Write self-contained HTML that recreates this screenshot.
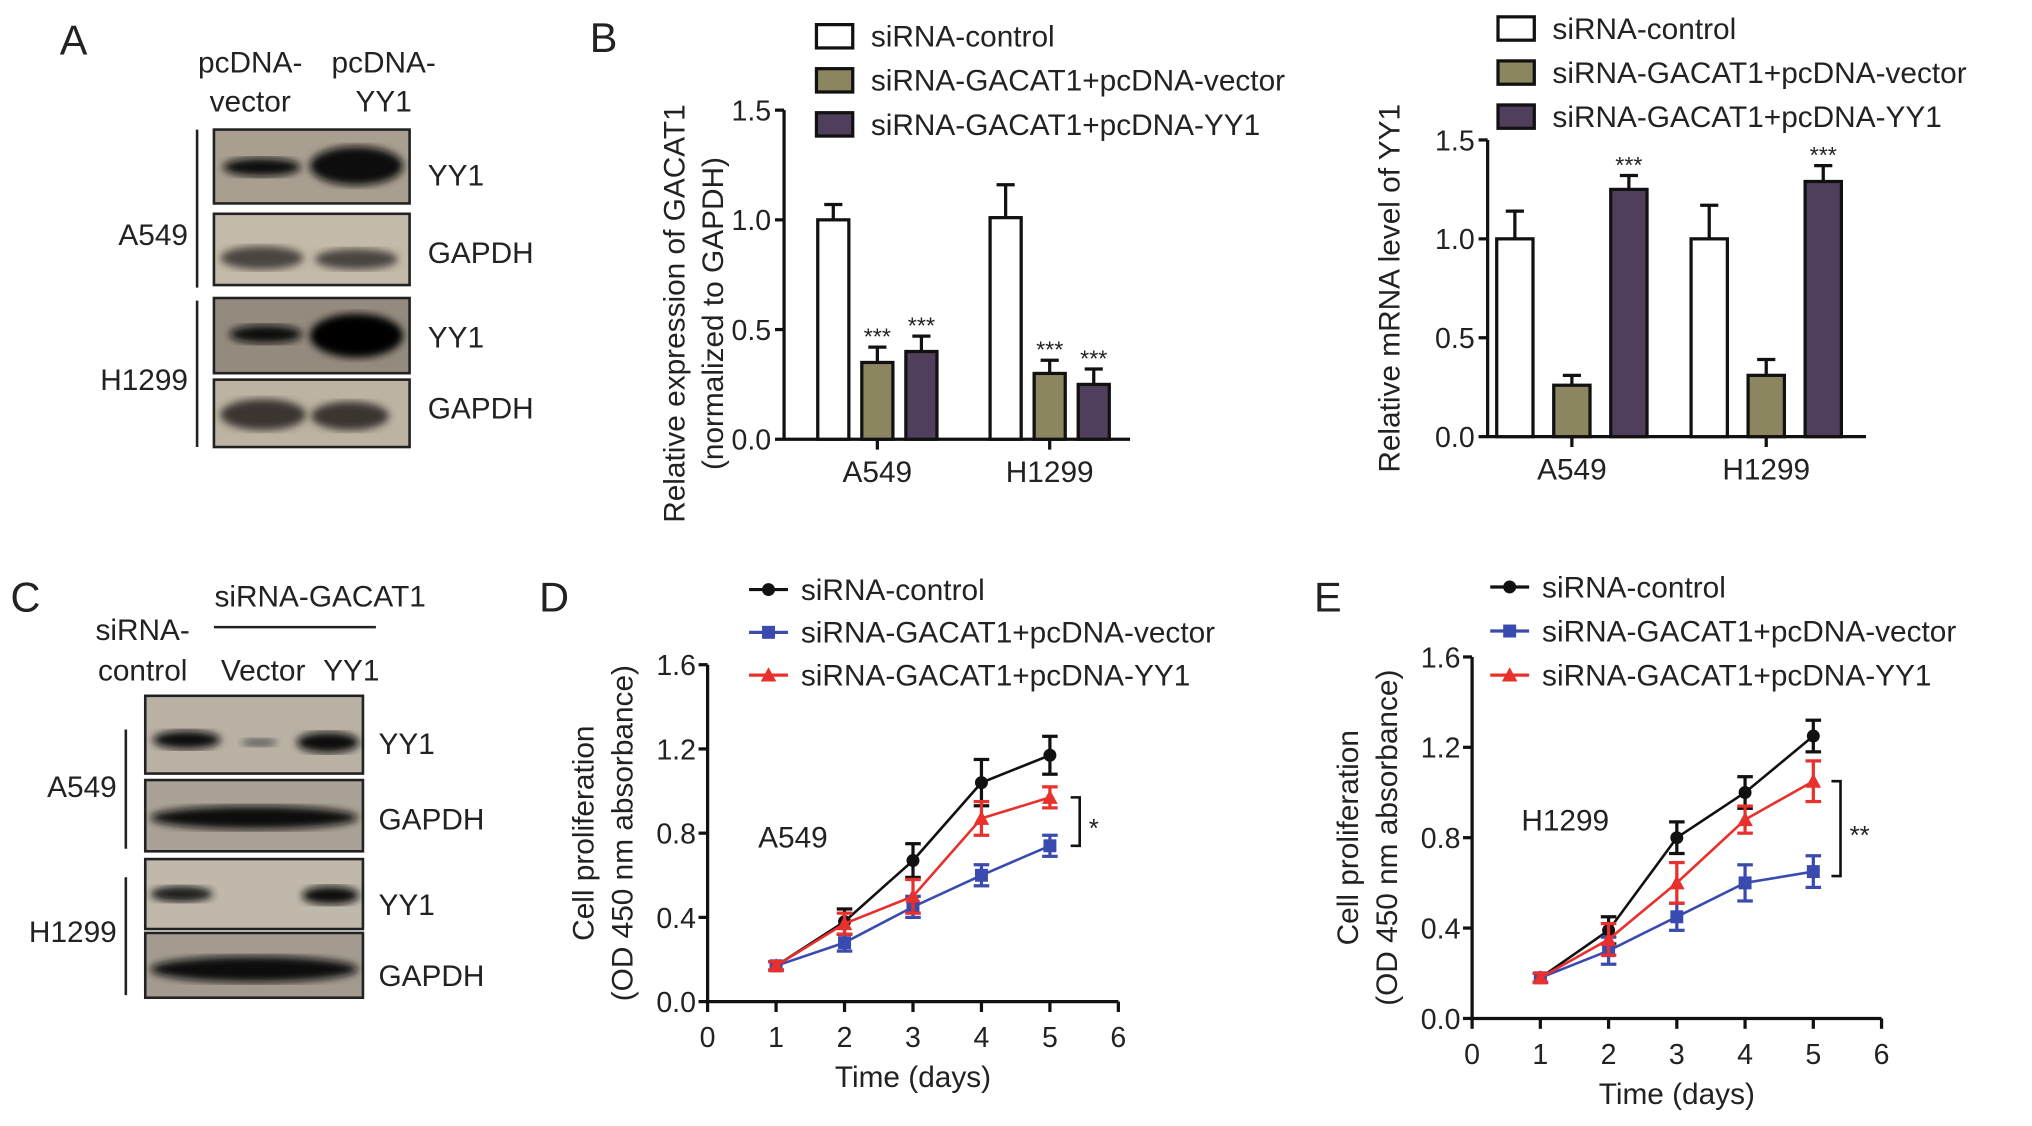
<!DOCTYPE html>
<html><head><meta charset="utf-8"><style>
html,body{margin:0;padding:0;background:#fff}
svg{display:block}
text{font-family:"Liberation Sans",Arial,sans-serif;fill:#222}
</style></head><body>
<svg id="fig" width="2032" height="1126" viewBox="0 0 1568 869">
<defs>
<filter id="blur"><feGaussianBlur stdDeviation="3"/></filter>
</defs>
<g>
<text x="46" y="42" font-size="32">A</text>
<text x="193" y="56" font-size="23" text-anchor="middle">pcDNA-</text>
<text x="193" y="86" font-size="23" text-anchor="middle">vector</text>
<text x="296" y="56" font-size="23" text-anchor="middle">pcDNA-</text>
<text x="296" y="86" font-size="23" text-anchor="middle">YY1</text>
<g><rect x="165" y="100" width="151" height="57" fill="#a89f90" stroke="#222" stroke-width="2"/>
<ellipse cx="202" cy="129" rx="30" ry="7" fill="#111" filter="url(#blur)"/><ellipse cx="275" cy="128" rx="36" ry="15" fill="#0a0a0a" filter="url(#blur)"/></g>
<g><rect x="165" y="165" width="151" height="55" fill="#c4baa9" stroke="#222" stroke-width="2"/>
<ellipse cx="202" cy="199" rx="32" ry="9" fill="#4a4540" filter="url(#blur)"/><ellipse cx="275" cy="200" rx="32" ry="8" fill="#4a4540" filter="url(#blur)"/></g>
<g><rect x="165" y="230" width="151" height="58" fill="#948b7f" stroke="#222" stroke-width="2"/>
<ellipse cx="205" cy="258" rx="28" ry="7" fill="#111" filter="url(#blur)"/><ellipse cx="275" cy="259" rx="36" ry="17" fill="#050505" filter="url(#blur)"/></g>
<g><rect x="165" y="293" width="151" height="52" fill="#bcb3a3" stroke="#222" stroke-width="2"/>
<ellipse cx="203" cy="320" rx="33" ry="12" fill="#3a3530" filter="url(#blur)"/><ellipse cx="270" cy="321" rx="30" ry="11" fill="#3a3530" filter="url(#blur)"/></g>
<text x="330" y="143" font-size="23">YY1</text><text x="330" y="203" font-size="23">GAPDH</text>
<text x="330" y="268" font-size="23">YY1</text><text x="330" y="323" font-size="23">GAPDH</text>
<line x1="152" y1="100" x2="152" y2="222" stroke="#222" stroke-width="2"/><line x1="152" y1="232" x2="152" y2="345" stroke="#222" stroke-width="2"/>
<text x="145" y="189" font-size="23" text-anchor="end">A549</text>
<text x="145" y="301" font-size="23" text-anchor="end">H1299</text>
</g>
<text x="455" y="40" font-size="32">B</text>
<g id="b1"></g>
<g id="b2"></g>
<g>
<text x="8" y="472" font-size="32">C</text>
<text x="247" y="468" font-size="23" text-anchor="middle">siRNA-GACAT1</text>
<line x1="165" y1="484" x2="290" y2="484" stroke="#222" stroke-width="2"/>
<text x="110" y="494" font-size="23" text-anchor="middle">siRNA-</text>
<text x="110" y="525" font-size="23" text-anchor="middle">control</text>
<text x="203" y="525" font-size="23" text-anchor="middle">Vector</text>
<text x="271" y="525" font-size="23" text-anchor="middle">YY1</text>
<g><rect x="112" y="537" width="168" height="60" fill="#b9b1a4" stroke="#222" stroke-width="2"/>
<ellipse cx="144" cy="571" rx="26" ry="7" fill="#0a0a0a" filter="url(#blur)"/><ellipse cx="200" cy="573" rx="14" ry="3" fill="#555" filter="url(#blur)"/><ellipse cx="253" cy="573" rx="24" ry="8" fill="#0a0a0a" filter="url(#blur)"/></g>
<g><rect x="112" y="602" width="168" height="55" fill="#aaa296" stroke="#222" stroke-width="2"/>
<ellipse cx="196" cy="631" rx="80" ry="9" fill="#111" filter="url(#blur)"/></g>
<g><rect x="112" y="663" width="168" height="54" fill="#c0b8ab" stroke="#222" stroke-width="2"/>
<ellipse cx="140" cy="690" rx="24" ry="6" fill="#1a1a1a" filter="url(#blur)"/><ellipse cx="255" cy="691" rx="22" ry="7" fill="#111" filter="url(#blur)"/></g>
<g><rect x="112" y="720" width="168" height="50" fill="#a39b8f" stroke="#222" stroke-width="2"/>
<ellipse cx="196" cy="748" rx="80" ry="10" fill="#111" filter="url(#blur)"/></g>
<text x="292" y="582" font-size="23">YY1</text><text x="292" y="640" font-size="23">GAPDH</text>
<text x="292" y="706" font-size="23">YY1</text><text x="292" y="761" font-size="23">GAPDH</text>
<line x1="97" y1="563" x2="97" y2="655" stroke="#222" stroke-width="2"/><line x1="97" y1="677" x2="97" y2="768" stroke="#222" stroke-width="2"/>
<text x="90" y="615" font-size="23" text-anchor="end">A549</text>
<text x="90" y="727" font-size="23" text-anchor="end">H1299</text>
</g>
<text x="416" y="472" font-size="32">D</text>
<text x="1014" y="472" font-size="32">E</text>
<g id="ld"></g>
<g id="le"></g>
</svg>
<script>
const groups=["A549","H1299"];
const barSeries=["siRNA-control","siRNA-GACAT1+pcDNA-vector","siRNA-GACAT1+pcDNA-YY1"];
const barColors=["#ffffff","#8c8660","#4f3f5c"];
const b1Values=[[1.0,0.35,0.40],[1.01,0.30,0.25]];
const b1Errors=[[0.07,0.07,0.07],[0.15,0.06,0.07]];
const b1Stars=[["","***","***"],["","***","***"]];
const b2Values=[[1.0,0.26,1.25],[1.0,0.31,1.29]];
const b2Errors=[[0.14,0.05,0.07],[0.17,0.08,0.08]];
const b2Stars=[["","","***"],["","","***"]];
const barTicks=["0.0","0.5","1.0","1.5"];
const days=[1,2,3,4,5];
const xTicks=["0","1","2","3","4","5","6"];
const lineTicks=["0.0","0.4","0.8","1.2","1.6"];
const dCtrl=[0.17,0.38,0.67,1.04,1.17],dCtrlE=[0.02,0.06,0.08,0.11,0.09];
const dVec=[0.17,0.28,0.45,0.60,0.74],dVecE=[0.02,0.04,0.05,0.05,0.05];
const dYY1=[0.17,0.37,0.50,0.87,0.97],dYY1E=[0.02,0.05,0.08,0.08,0.05];
const eCtrl=[0.18,0.39,0.80,1.00,1.25],eCtrlE=[0.02,0.06,0.07,0.07,0.07];
const eVec=[0.18,0.30,0.45,0.60,0.65],eVecE=[0.02,0.06,0.06,0.08,0.07];
const eYY1=[0.18,0.35,0.60,0.88,1.05],eYY1E=[0.02,0.07,0.09,0.06,0.09];
const NS="http://www.w3.org/2000/svg";
function mk(p,t,a,txt){const e=document.createElementNS(NS,t);for(const k in a)e.setAttribute(k,a[k]);if(txt!==undefined)e.textContent=txt;p.appendChild(e);return e;}
function barChart(g,o,vals,errs,stars){
 const y=v=>o.y0-v*(o.y0-o.y15)/1.5;
 mk(g,"line",{x1:o.ax,y1:o.y15,x2:o.ax,y2:o.y0+1,stroke:"#111","stroke-width":2.5});
 mk(g,"line",{x1:o.ax,y1:o.y0,x2:o.xend,y2:o.y0,stroke:"#111","stroke-width":2.5});
 barTicks.forEach(t=>{const yy=y(+t);mk(g,"line",{x1:o.ax-7,y1:yy,x2:o.ax,y2:yy,stroke:"#111","stroke-width":2.5});
  const l=mk(g,"text",{x:o.ax-10,y:yy+8,"font-size":22,"text-anchor":"end"},t);});
 groups.forEach((gn,gi)=>{const cx=o.gx[gi];
  mk(g,"line",{x1:cx,y1:o.y0,x2:cx,y2:o.y0+8,stroke:"#111","stroke-width":2.5});
  const gl=mk(g,"text",{x:cx,y:o.y0+33,"font-size":23,"text-anchor":"middle"},gn);
  vals[gi].forEach((v,si)=>{const bx=cx+(si-1)*o.step-o.bw/2;const top=y(v),et=y(v+errs[gi][si]);const mx=bx+o.bw/2;
   mk(g,"line",{x1:mx,y1:top,x2:mx,y2:et,stroke:"#111","stroke-width":2.5});
   mk(g,"line",{x1:mx-7,y1:et,x2:mx+7,y2:et,stroke:"#111","stroke-width":2.5});
   const r=mk(g,"rect",{x:bx,y:top,width:o.bw,height:o.y0-top,fill:barColors[si],stroke:"#111","stroke-width":2.5});
   
   if(stars[gi][si]){const s=mk(g,"text",{x:mx,y:et-2,"font-size":18,"text-anchor":"middle"},stars[gi][si]);}
  });});
 barSeries.forEach((n,i)=>{const ly=o.ly+i*o.lstep;
  const r=mk(g,"rect",{x:o.lx,y:ly-9,width:28,height:18,fill:barColors[i],stroke:"#111","stroke-width":2.5});
  
  const t=mk(g,"text",{x:o.lx+42,y:ly+8,"font-size":23},n);});
 const yt=mk(g,"text",{transform:`translate(${o.ylx},${(o.y0+o.y15)/2+o.yoff}) rotate(-90)`,"font-size":23,"text-anchor":"middle"});
 o.ylab.forEach((l,i)=>mk(yt,"tspan",{x:0,dy:i?30:0},l));
 
}
barChart(document.getElementById("b1"),{ax:605,y0:339,y15:85,xend:872,gx:[677,810],step:34,bw:24,lx:630,ly:28,lstep:34,ylx:528,yoff:30,ylab:["Relative expression of GACAT1","(normalized to GAPDH)"]},b1Values,b1Errors,b1Stars);
barChart(document.getElementById("b2"),{ax:1148,y0:337,y15:108,xend:1440,gx:[1213,1363],step:44,bw:28,lx:1156,ly:22,lstep:34,ylx:1080,yoff:0,ylab:["Relative mRNA level of YY1"]},b2Values,b2Errors,b2Stars);

function lineChart(g,o,series){
 const x=d=>o.x0+d*(o.x6-o.x0)/6, y=v=>o.y0-v*(o.y0-o.y16)/1.6;
 mk(g,"line",{x1:o.x0,y1:o.y16,x2:o.x0,y2:o.y0+1,stroke:"#111","stroke-width":2.5});
 mk(g,"line",{x1:o.x0,y1:o.y0,x2:o.x6,y2:o.y0,stroke:"#111","stroke-width":2.5});
 lineTicks.forEach(t=>{const yy=y(+t);mk(g,"line",{x1:o.x0-7,y1:yy,x2:o.x0,y2:yy,stroke:"#111","stroke-width":2.5});
  const l=mk(g,"text",{x:o.x0-9,y:yy+8,"font-size":22,"text-anchor":"end"},t);});
 xTicks.forEach(t=>{const xx=x(+t);mk(g,"line",{x1:xx,y1:o.y0,x2:xx,y2:o.y0+8,stroke:"#111","stroke-width":2.5});
  const l=mk(g,"text",{x:xx,y:o.y0+35,"font-size":22,"text-anchor":"middle"},t);});
 const xt=mk(g,"text",{x:(o.x0+o.x6)/2,y:o.y0+66,"font-size":23,"text-anchor":"middle"},"Time (days)");
 
 const yt=mk(g,"text",{transform:`translate(${o.x0-88},${(o.y0+o.y16)/2}) rotate(-90)`,"font-size":23,"text-anchor":"middle"});
 mk(yt,"tspan",{x:0,dy:0},"Cell proliferation");mk(yt,"tspan",{x:0,dy:30},"(OD 450 nm absorbance)");
 
 series.forEach(s=>{
  const pts=days.map((d,i)=>x(d)+","+y(s.v[i])).join(" ");
  const pl=mk(g,"polyline",{points:pts,fill:"none",stroke:s.c,"stroke-width":2});
  
  days.forEach((d,i)=>{const xx=x(d),v=s.v[i],e=s.e[i];
   mk(g,"line",{x1:xx,y1:y(v+e),x2:xx,y2:y(v-e),stroke:s.c,"stroke-width":2.5});
   [v+e,v-e].forEach(w=>mk(g,"line",{x1:xx-6,y1:y(w),x2:xx+6,y2:y(w),stroke:s.c,"stroke-width":2.5}));
   const m=marker(g,s.m,xx,y(v),s.c);});
 });
 series.forEach((s,i)=>{const ly=o.ly+i*o.lstep;
  mk(g,"line",{x1:o.lx,y1:ly,x2:o.lx+30,y2:ly,stroke:s.c,"stroke-width":2.5});
  marker(g,s.m,o.lx+15,ly,s.c);
  const t=mk(g,"text",{x:o.lx+40,y:ly+8,"font-size":23},s.n);});
 const c=mk(g,"text",{x:o.cx,y:o.cy,"font-size":23},o.cell);
 const bx=x(5)+o.bo, y1=y(o.b1), y2=y(o.b2);
 const br=mk(g,"polyline",{points:`${bx},${y1} ${bx+7},${y1} ${bx+7},${y2} ${bx},${y2}`,fill:"none",stroke:"#111","stroke-width":2});
 
 const st=mk(g,"text",{x:bx+14,y:(y1+y2)/2+12,"font-size":20},o.star);
}
function marker(g,m,x,y,c){
 if(m==="c")return mk(g,"circle",{cx:x,cy:y,r:5,fill:c});
 if(m==="s")return mk(g,"rect",{x:x-5,y:y-5,width:10,height:10,fill:c});
 return mk(g,"polygon",{points:`${x},${y-6} ${x+6},${y+5} ${x-6},${y+5}`,fill:c});
}
lineChart(document.getElementById("ld"),{x0:546,x6:863,y0:773,y16:513,lx:578,ly:455,lstep:33,cx:585,cy:654,cell:"A549",bo:16,b1:0.97,b2:0.74,star:"*"},
 [{n:"siRNA-control",k:"control",c:"#111",m:"c",v:dCtrl,e:dCtrlE},{n:"siRNA-GACAT1+pcDNA-vector",k:"vector",c:"#3a4bb0",m:"s",v:dVec,e:dVecE},{n:"siRNA-GACAT1+pcDNA-YY1",k:"yy1",c:"#e8302c",m:"t",v:dYY1,e:dYY1E}]);
lineChart(document.getElementById("le"),{x0:1136,x6:1452,y0:786,y16:507,lx:1150,ly:453,lstep:34,cx:1174,cy:641,cell:"H1299",bo:14,b1:1.05,b2:0.63,star:"**"},
 [{n:"siRNA-control",k:"control",c:"#111",m:"c",v:eCtrl,e:eCtrlE},{n:"siRNA-GACAT1+pcDNA-vector",k:"vector",c:"#3a4bb0",m:"s",v:eVec,e:eVecE},{n:"siRNA-GACAT1+pcDNA-YY1",k:"yy1",c:"#e8302c",m:"t",v:eYY1,e:eYY1E}]);
</script>
</body></html>
